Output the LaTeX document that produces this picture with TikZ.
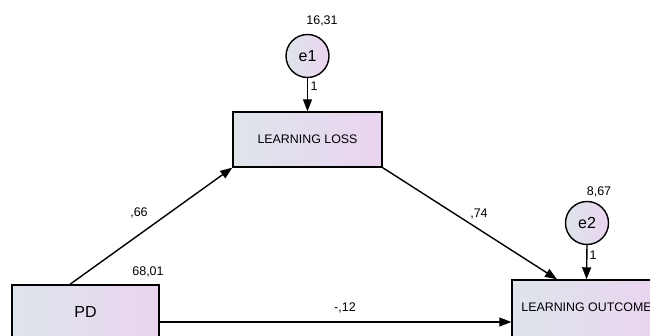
\documentclass[tikz,border=0pt]{standalone}
\usepackage{fontspec}
\setmainfont{Liberation Sans}
\usetikzlibrary{arrows.meta}
\definecolor{gl}{HTML}{DDE5EA}
\definecolor{gr}{HTML}{EAD4F0}
\tikzset{
  varbox/.style={draw=black, line width=1.4pt, left color=gl, right color=gr, inner sep=0pt},
  errc/.style={circle, draw=black, line width=1.4pt, left color=gl, right color=gr, minimum size=43pt, inner sep=0pt, font=\fontsize{16}{18}\selectfont},
  path/.style={line width=1.4pt, -{Triangle[length=12pt, width=9pt]}},
  lbl/.style={font=\fontsize{12.5}{14}\selectfont, inner sep=0pt}
}
\begin{document}
\begin{tikzpicture}[x=1pt, y=1pt]
\useasboundingbox (0,0) rectangle (650,336);
\clip (0,0) rectangle (650,336);
\node[varbox, minimum width=149pt, minimum height=55pt, font=\fontsize{12.4}{14}\selectfont] (LL) at (307.5,196.5) {LEARNING LOSS};
\node[varbox, minimum width=147pt, minimum height=55pt, font=\fontsize{16}{18}\selectfont] (PD) at (85.5,23.5) {PD};
\node[varbox, minimum width=149pt, minimum height=60pt] (LO) at (586.5,26) {};
\node[font=\fontsize{12.4}{14}\selectfont, inner sep=0pt] (LOt) at (586.5,28.5) {LEARNING OUTCOME};
\node[errc] (e1) at (307.5,280) {e1};
\node[errc] (e2) at (587,113) {e2};
\draw[path] (e1.south) -- (LL.north);
\draw[path] (e2.south) -- (LO.north);
\draw[path] ([xshift=-15.5pt]PD.north) -- (LL.south west);
\draw[path] (LL.south east) -- ([xshift=-29.5pt]LO.north);
\draw[path] ([yshift=-9.5pt]PD.east) -- ([yshift=-9.5pt]PD.east -| LO.west);
\node[lbl] (l1) at (322,315) {16,31};
\node[lbl] (l2) at (314,250) {1};
\node[lbl] (l3) at (599,144) {8,67};
\node[lbl] (l4) at (593,81) {1};
\node[lbl] (l5) at (148,64) {68,01};
\node[lbl] (l6) at (139,123) {,66};
\node[lbl] (l7) at (479,122) {,74};
\node[lbl] (l8) at (345,28) {-,12};
\end{tikzpicture}
\end{document}
